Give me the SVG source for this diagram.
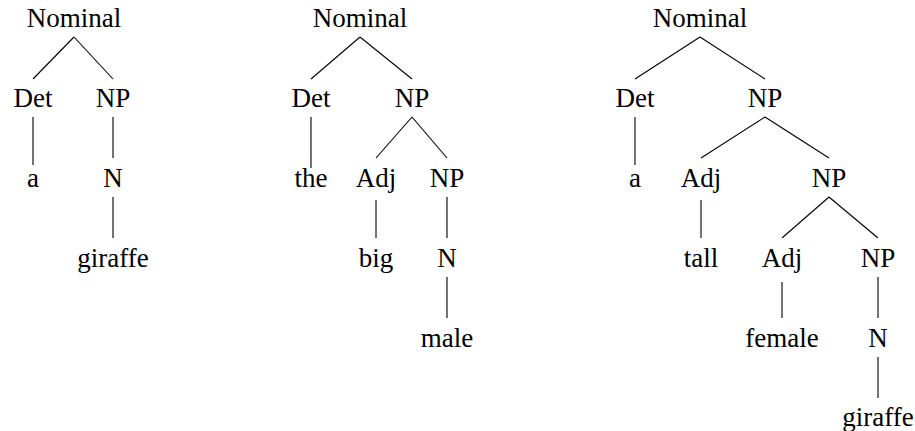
<svg xmlns="http://www.w3.org/2000/svg" width="915" height="431" viewBox="0 0 915 431">
<rect width="915" height="431" fill="#fff"/>
<g id="connectors" stroke="#000" stroke-width="1.1">
<line x1="74" y1="37" x2="33" y2="79"/><line x1="74" y1="37" x2="113" y2="79"/>
<line x1="33" y1="117" x2="33" y2="165"/>
<line x1="113" y1="117" x2="113" y2="158"/>
<line x1="113" y1="197" x2="113" y2="238"/>
<line x1="360" y1="37" x2="311" y2="79"/><line x1="360" y1="37" x2="412" y2="79"/>
<line x1="311" y1="117" x2="311" y2="168"/>
<line x1="412" y1="117" x2="376" y2="158"/><line x1="412" y1="117" x2="447" y2="158"/>
<line x1="376" y1="200" x2="376" y2="238"/>
<line x1="447" y1="197" x2="447" y2="238"/>
<line x1="447" y1="277" x2="447" y2="318"/>
<line x1="700" y1="37" x2="635" y2="79"/><line x1="700" y1="37" x2="765" y2="79"/>
<line x1="635" y1="117" x2="635" y2="165"/>
<line x1="765" y1="117" x2="701" y2="158"/><line x1="765" y1="117" x2="829" y2="158"/>
<line x1="701" y1="200" x2="701" y2="238"/>
<line x1="829" y1="197" x2="782" y2="238"/><line x1="829" y1="197" x2="878" y2="238"/>
<line x1="782" y1="282" x2="782" y2="318"/>
<line x1="878" y1="277" x2="878" y2="318"/>
<line x1="878" y1="357" x2="878" y2="398"/>
</g>
<g id="t1-nominal"><text x="74" y="27" font-family="Liberation Serif" font-size="27" text-anchor="middle" style="font-family:'Liberation Serif',serif">Nominal</text></g>
<g id="t1-det"><text x="33" y="107" font-family="Liberation Serif" font-size="27" text-anchor="middle" style="font-family:'Liberation Serif',serif">Det</text></g>
<g id="t1-np"><text x="113" y="107" font-family="Liberation Serif" font-size="27" text-anchor="middle" style="font-family:'Liberation Serif',serif">NP</text></g>
<g id="t1-a"><text x="33" y="187" font-family="Liberation Serif" font-size="27" text-anchor="middle" style="font-family:'Liberation Serif',serif">a</text></g>
<g id="t1-n"><text x="113" y="187" font-family="Liberation Serif" font-size="27" text-anchor="middle" style="font-family:'Liberation Serif',serif">N</text></g>
<g id="t1-giraffe"><text x="113" y="267" font-family="Liberation Serif" font-size="27" text-anchor="middle" style="font-family:'Liberation Serif',serif">giraffe</text></g>
<g id="t2-nominal"><text x="360" y="27" font-family="Liberation Serif" font-size="27" text-anchor="middle" style="font-family:'Liberation Serif',serif">Nominal</text></g>
<g id="t2-det"><text x="311" y="107" font-family="Liberation Serif" font-size="27" text-anchor="middle" style="font-family:'Liberation Serif',serif">Det</text></g>
<g id="t2-np"><text x="412" y="107" font-family="Liberation Serif" font-size="27" text-anchor="middle" style="font-family:'Liberation Serif',serif">NP</text></g>
<g id="t2-the"><text x="311" y="187" font-family="Liberation Serif" font-size="27" text-anchor="middle" style="font-family:'Liberation Serif',serif">the</text></g>
<g id="t2-adj"><text x="376" y="187" font-family="Liberation Serif" font-size="27" text-anchor="middle" style="font-family:'Liberation Serif',serif">Adj</text></g>
<g id="t2-np2"><text x="447" y="187" font-family="Liberation Serif" font-size="27" text-anchor="middle" style="font-family:'Liberation Serif',serif">NP</text></g>
<g id="t2-big"><text x="376" y="267" font-family="Liberation Serif" font-size="27" text-anchor="middle" style="font-family:'Liberation Serif',serif">big</text></g>
<g id="t2-n"><text x="447" y="267" font-family="Liberation Serif" font-size="27" text-anchor="middle" style="font-family:'Liberation Serif',serif">N</text></g>
<g id="t2-male"><text x="447" y="347" font-family="Liberation Serif" font-size="27" text-anchor="middle" style="font-family:'Liberation Serif',serif">male</text></g>
<g id="t3-nominal"><text x="700" y="27" font-family="Liberation Serif" font-size="27" text-anchor="middle" style="font-family:'Liberation Serif',serif">Nominal</text></g>
<g id="t3-det"><text x="635" y="107" font-family="Liberation Serif" font-size="27" text-anchor="middle" style="font-family:'Liberation Serif',serif">Det</text></g>
<g id="t3-np"><text x="765" y="107" font-family="Liberation Serif" font-size="27" text-anchor="middle" style="font-family:'Liberation Serif',serif">NP</text></g>
<g id="t3-a"><text x="635" y="187" font-family="Liberation Serif" font-size="27" text-anchor="middle" style="font-family:'Liberation Serif',serif">a</text></g>
<g id="t3-adj"><text x="701" y="187" font-family="Liberation Serif" font-size="27" text-anchor="middle" style="font-family:'Liberation Serif',serif">Adj</text></g>
<g id="t3-np2"><text x="829" y="187" font-family="Liberation Serif" font-size="27" text-anchor="middle" style="font-family:'Liberation Serif',serif">NP</text></g>
<g id="t3-tall"><text x="701" y="267" font-family="Liberation Serif" font-size="27" text-anchor="middle" style="font-family:'Liberation Serif',serif">tall</text></g>
<g id="t3-adj2"><text x="782" y="267" font-family="Liberation Serif" font-size="27" text-anchor="middle" style="font-family:'Liberation Serif',serif">Adj</text></g>
<g id="t3-np3"><text x="878" y="267" font-family="Liberation Serif" font-size="27" text-anchor="middle" style="font-family:'Liberation Serif',serif">NP</text></g>
<g id="t3-female"><text x="782" y="347" font-family="Liberation Serif" font-size="27" text-anchor="middle" style="font-family:'Liberation Serif',serif">female</text></g>
<g id="t3-n"><text x="878" y="347" font-family="Liberation Serif" font-size="27" text-anchor="middle" style="font-family:'Liberation Serif',serif">N</text></g>
<g id="t3-giraffe"><text x="878" y="426" font-family="Liberation Serif" font-size="27" text-anchor="middle" style="font-family:'Liberation Serif',serif">giraffe</text></g>
</svg>
